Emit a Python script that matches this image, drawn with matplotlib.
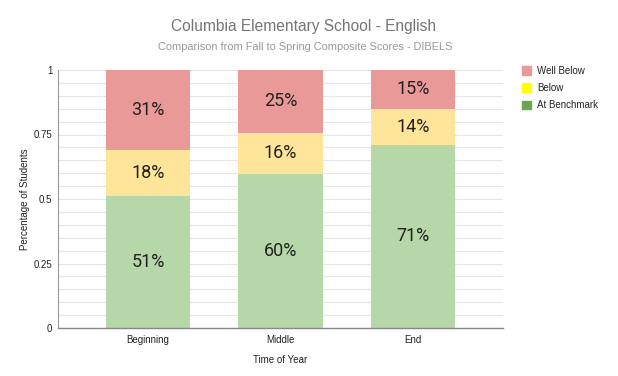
import matplotlib.pyplot as plt
from matplotlib.patches import Patch

# dados
periodos = ['Beginning', 'Middle', 'End']
at_benchmark = [0.51, 0.598, 0.71]
below = [0.18, 0.157, 0.14]
well_below = [0.31, 0.246, 0.15]

cor_bench = '#b6d7a8'
cor_below = '#ffe599'
cor_well = '#ea9999'

plt.rcParams['font.family'] = ['Liberation Sans', 'DejaVu Sans']

fig = plt.figure(figsize=(6.18, 3.76), dpi=100)
ax = fig.add_axes([58 / 618, 1 - 328 / 376, 445 / 618, 258 / 376])

x = range(len(periodos))
largura = 0.64
base2 = [a + b for a, b in zip(at_benchmark, below)]
ax.bar(x, at_benchmark, largura, color=cor_bench, zorder=2)
ax.bar(x, below, largura, bottom=at_benchmark, color=cor_below, zorder=2)
ax.bar(x, well_below, largura, bottom=base2, color=cor_well, zorder=2)

# rótulos dentro das barras
for i in x:
    partes = [(0, at_benchmark[i]), (at_benchmark[i], below[i]), (base2[i], well_below[i])]
    for b, v in partes:
        ax.text(i, b + v / 2, f'{round(v * 100)}%', ha='center', va='center',
                fontsize=13, color='#222222', family=['Roboto', 'DejaVu Sans'], zorder=3)

ax.set_xlim(-0.68, 2.68)
ax.set_ylim(0, 1)
ax.set_yticks([0, 0.25, 0.5, 0.75, 1])
ax.set_yticklabels(['0', '0.25', '0.5', '0.75', '1'])
ax.set_yticks([i * 0.05 for i in range(21)], minor=True)
ax.grid(True, axis='y', which='both', color='#e6e6e6', linewidth=0.8, zorder=0)
ax.tick_params(axis='y', which='both', length=0, labelsize=7, colors='#222222', pad=4)
ax.set_xticks(list(x))
ax.set_xticklabels(periodos)
ax.tick_params(axis='x', length=0, labelsize=7, colors='#222222', pad=5)
for lado in ['top', 'right']:
    ax.spines[lado].set_visible(False)
ax.spines['left'].set_color('#999999')
ax.spines['bottom'].set_color('#888888')
ax.spines['left'].set_linewidth(0.8)
ax.spines['bottom'].set_linewidth(1.0)

ax.set_ylabel('Percentage of Students', fontsize=7, color='#222222', labelpad=3)
ax.set_xlabel('Time of Year', fontsize=7, color='#222222', labelpad=7)

fig.text(304 / 618, 1 - 27 / 376, 'Columbia Elementary School - English', ha='center', va='center',
         fontsize=11.2, color='#757575')
fig.text(305 / 618, 1 - 47 / 376, 'Comparison from Fall to Spring Composite Scores - DIBELS',
         ha='center', va='center', fontsize=7.9, color='#999999')

# legenda
itens = [Patch(color='#ea9999', label='Well Below'),
         Patch(color='#ffff00', label='Below'),
         Patch(color='#6aa84f', label='At Benchmark')]
fig.legend(handles=itens, loc='upper left', bbox_to_anchor=(513 / 618, 1 - 57 / 376),
           frameon=False, fontsize=7, handlelength=1.0, handleheight=1.0,
           handletextpad=0.6, labelspacing=0.75, labelcolor='#222222')

fig.savefig('out.png', dpi=100)
